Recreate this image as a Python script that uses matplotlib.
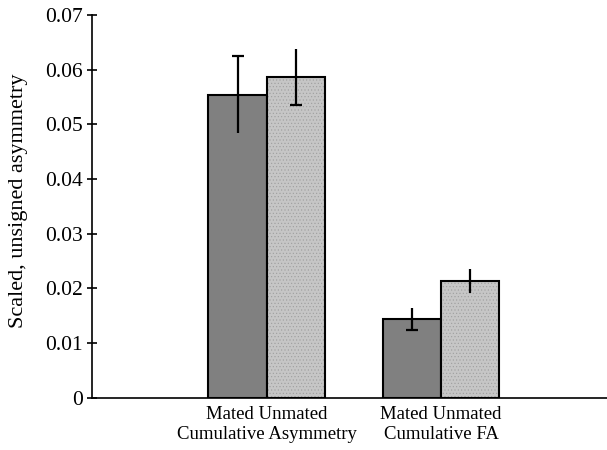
import matplotlib.pyplot as plt
import numpy as np

plt.rcParams['font.family'] = ['Liberation Serif', 'DejaVu Serif']
plt.rcParams['hatch.linewidth'] = 0.4

# Data
groups = ["Cumulative Asymmetry", "Cumulative FA"]
bar_labels = ["Mated", "Unmated"]
mated = [0.0554, 0.0144]
mated_err = [0.0070, 0.0020]
unmated = [0.0587, 0.0214]
unmated_err = [0.0051, 0.0022]

fig = plt.figure(figsize=(6.07, 4.5), dpi=100)
ax = fig.add_axes([0.1516, 0.116, 0.8484, 0.851])

x = np.array([1.0, 2.0])
w = 0.333

ax.bar(x - w / 2, mated, w, color='#808080', edgecolor='black', linewidth=1.5, zorder=2)
ax.bar(x + w / 2, unmated, w, color='#c6c6c6', edgecolor='black', linewidth=1.5,
       hatch='.....', zorder=2)
for b in ax.patches[2:]:
    b._hatch_color = (0.62, 0.62, 0.62, 1.0)

# error bars (the original only shows a cap at one end)
ax.errorbar(x - w / 2, mated, yerr=mated_err, fmt='none', ecolor='black', elinewidth=1.6,
            capsize=0, zorder=3)
ax.errorbar(x + w / 2, unmated, yerr=unmated_err, fmt='none', ecolor='black', elinewidth=1.6,
            capsize=0, zorder=3)
ax.plot([x[0] - w / 2], [mated[0] + mated_err[0]], marker='_', ms=8, mew=1.6, color='black', zorder=3)
ax.plot([x[0] + w / 2], [unmated[0] - unmated_err[0]], marker='_', ms=8, mew=1.6, color='black', zorder=3)
ax.plot([x[1] - w / 2], [mated[1] - mated_err[1]], marker='_', ms=8, mew=1.6, color='black', zorder=3)

ax.set_xlim(0, 2.95)
ax.set_ylim(0, 0.07)
ax.set_yticks(np.arange(0, 0.071, 0.01))
ax.set_yticklabels(['0', '0.01', '0.02', '0.03', '0.04', '0.05', '0.06', '0.07'])
ax.tick_params(axis='y', direction='inout', length=7, width=1.2, labelsize=15.5, pad=3)

ax.set_xticks(x)
ax.set_xticklabels([" ".join(bar_labels) + "\n" + g for g in groups], linespacing=1.25)
ax.tick_params(axis='x', length=0, labelsize=13.5, pad=6)

for s in ['top', 'right']:
    ax.spines[s].set_visible(False)
ax.spines['left'].set_linewidth(1.2)
ax.spines['bottom'].set_linewidth(1.2)

ax.set_ylabel("Scaled, unsigned asymmetry", fontsize=16)
ax.yaxis.set_label_coords(-0.125, 0.515)

fig.savefig("out.png", dpi=100)
